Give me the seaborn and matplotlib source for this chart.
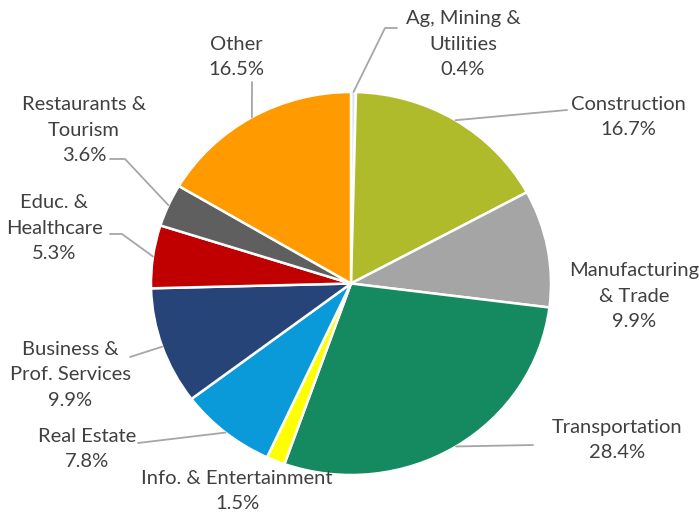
import numpy as np
import matplotlib
matplotlib.use("Agg")
import matplotlib.pyplot as plt
import seaborn as sns

# Datos
sectores = ["Ag, Mining &\nUtilities", "Construction", "Manufacturing\n& Trade", "Transportation",
            "Info. & Entertainment", "Real Estate", "Business &\nProf. Services", "Educ. &\nHealthcare",
            "Restaurants &\nTourism", "Other"]
porcentajes = [0.4, 16.7, 9.9, 28.4, 1.5, 7.8, 9.9, 5.3, 3.6, 16.5]
colores = ["#dae3f3", "#b0bb2c", "#a5a5a5", "#158a60", "#ffff00",
           "#0a9ad9", "#264478", "#c00000", "#5f5f5f", "#ff9a00"]

sns.set_theme(style="white")
plt.rcParams["font.family"] = ["Lato", "DejaVu Sans"]

W, H = 699, 513
cx, cy, rx, ry = 351, 283.5, 200, 191.5  # pixel layout of the pie

fig = plt.figure(figsize=(W / 100, H / 100), dpi=100)
ax_pie = fig.add_axes([(cx - rx) / W, (H - cy - ry) / H, 2 * rx / W, 2 * ry / H])
cuñas, _ = ax_pie.pie(porcentajes, colors=colores, startangle=90, counterclock=False,
                      wedgeprops=dict(edgecolor="white", linewidth=1.8))
ax_pie.set_aspect("auto")
ax_pie.set_xlim(-1, 1)
ax_pie.set_ylim(-1, 1)
ax_pie.axis("off")

# capa para textos y lineas guia, en pixeles
ax = fig.add_axes([0, 0, 1, 1], facecolor="none")
ax.set_xlim(0, W)
ax.set_ylim(H, 0)
ax.axis("off")

# posiciones de etiquetas y codos de guias
pos_texto = [(463, 44), (628, 117), (634, 296), (617, 440), (237, 491),
             (87, 449), (70, 375), (54, 228), (84, 130), (236, 57)]
guias = [[(385, 28), (397, 28)], [(567, 110)], [], [(533, 445)], [],
         [(138, 443)], [(130, 357)], [(122, 234), (110, 234)], [(125, 159), (110, 159)], [(252, 82)]]

for cuña, nombre, pct, (tx, ty), guia in zip(cuñas, sectores, porcentajes, pos_texto, guias):
    ax.text(tx, ty, f"{nombre}\n{pct:.1f}%", ha="center", va="center", fontsize=14.5,
            color="#404040", linespacing=1.58)
    if guia:
        ang = np.deg2rad((cuña.theta1 + cuña.theta2) / 2)
        x0 = cx + rx * np.cos(ang)
        y0 = cy - ry * np.sin(ang)
        xs = [x0] + [p[0] for p in guia]
        ys = [y0] + [p[1] for p in guia]
        ax.plot(xs, ys, color="#a6a6a6", lw=1.3)

fig.savefig("out.png", dpi=100)
